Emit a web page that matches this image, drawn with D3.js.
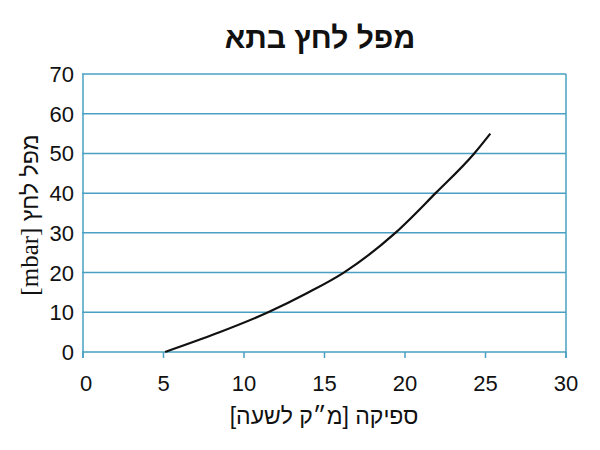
<!DOCTYPE html>
<html>
<head>
<meta charset="utf-8">
<script src="https://cdn.jsdelivr.net/npm/d3@7"></script>
<style>
  body { margin: 0; background: #fff; }
  text { font-family: "Liberation Sans", Arial, sans-serif; fill: #111; }
</style>
</head>
<body>
<svg id="chart" width="600" height="450"></svg>
<script>
// Data
const flow = [5.1, 8.3, 11.5, 13.9, 16.2, 19.4, 21.9, 24.3, 25.3];
const pressure = [0, 4.7, 10, 14.8, 20, 30, 40, 50, 55];
const xTicks = [0, 5, 10, 15, 20, 25, 30];
const yTicks = [0, 10, 20, 30, 40, 50, 60, 70];

const title = "מפל לחץ בתא";
const xLabel = "ספיקה [מ״ק לשעה]";
const yLabelHe = "מפל לחץ ";
const yLabelUnit = "[mbar]";

const gridColor = "#4aa0c2";
const margin = {top: 74, right: 34, bottom: 98, left: 83};
const width = 600 - margin.left - margin.right;
const height = 450 - margin.top - margin.bottom;

const svg = d3.select("#chart");

const x = d3.scaleLinear().domain([0, 30]).range([0, width]);
const y = d3.scaleLinear().domain([0, 70]).range([height, 0]);

const main = svg.append("g")
  .attr("transform", "translate(" + margin.left + "," + margin.top + ")");

// Horizontal grid lines
main.selectAll(".grid-h").data(yTicks).enter()
  .append("line")
  .attr("class", "grid-h")
  .attr("x1", x(0) - 1).attr("x2", x(30))
  .attr("y1", d => y(d)).attr("y2", d => y(d))
  .style("stroke", gridColor).style("stroke-width", 1.5);

// Left / right frame
main.selectAll(".frame-v").data([0, 30]).enter()
  .append("line")
  .attr("class", "frame-v")
  .attr("x1", d => x(d)).attr("x2", d => x(d))
  .attr("y1", y(70)).attr("y2", y(0) + 6)
  .style("stroke", gridColor).style("stroke-width", 1.5);

// Bottom tick marks
main.selectAll(".tick-x").data(xTicks).enter()
  .append("line")
  .attr("class", "tick-x")
  .attr("x1", d => x(d)).attr("x2", d => x(d))
  .attr("y1", y(0)).attr("y2", y(0) + 6)
  .style("stroke", gridColor).style("stroke-width", 1.5);

// Tick labels
main.selectAll(".label-x").data(xTicks).enter()
  .append("text")
  .attr("class", "label-x")
  .attr("x", d => x(d) + (d === 0 ? 3 : 0))
  .attr("y", y(0) + 39)
  .attr("text-anchor", "middle")
  .style("font-size", "22px")
  .text(d => d);

main.selectAll(".label-y").data(yTicks).enter()
  .append("text")
  .attr("class", "label-y")
  .attr("x", -9)
  .attr("y", d => y(d) + 8)
  .attr("text-anchor", "end")
  .style("font-size", "22px")
  .text(d => d);

// Curve
const points = flow.map((f, i) => [f, pressure[i]]);
const line = d3.line()
  .x(d => x(d[0]))
  .y(d => y(d[1]))
  .curve(d3.curveMonotoneX);

main.append("path")
  .datum(points)
  .attr("d", line)
  .style("fill", "none")
  .style("stroke", "#111")
  .style("stroke-width", 2.2);

// Title
svg.append("text")
  .attr("x", 320)
  .attr("y", 48)
  .attr("text-anchor", "middle")
  .attr("direction", "rtl")
  .style("font-size", "30px")
  .style("font-weight", "bold")
  .text(title);

// X axis label
svg.append("text")
  .attr("x", 324)
  .attr("y", 424)
  .attr("text-anchor", "middle")
  .attr("direction", "rtl")
  .style("font-size", "23px")
  .text(xLabel);

// Y axis label
const yl = svg.append("text")
  .attr("transform", "translate(38," + (margin.top + height / 2 + 2) + ") rotate(-90)")
  .attr("text-anchor", "middle")
  .attr("direction", "rtl")
  .style("font-size", "23px");
yl.append("tspan").text(yLabelHe);
yl.append("tspan")
  .style("font-family", "'Liberation Serif', 'Times New Roman', serif")
  .style("font-size", "25px")
  .text(yLabelUnit);
</script>
</body>
</html>
